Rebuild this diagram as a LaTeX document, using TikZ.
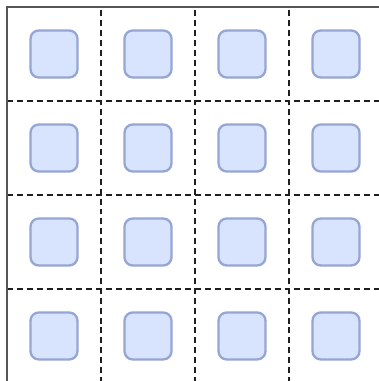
\documentclass[tikz,border=0pt]{standalone}
\usepackage{xcolor}
\usepackage{tikz}
\usetikzlibrary{positioning}
\definecolor{cellfill}{RGB}{216,228,253}
\definecolor{celldraw}{RGB}{150,166,212}
\definecolor{framegray}{RGB}{85,85,85}
\definecolor{griddark}{RGB}{30,30,30}
\tikzset{
  cellbox/.style={rectangle, draw=celldraw, fill=cellfill,
    minimum size=0.5cm, inner sep=0pt, rounded corners=2.5pt, line width=0.7pt},
  frameline/.style={draw=framegray, line width=0.8pt},
  gridline/.style={draw=griddark, line width=0.8pt, dash pattern=on 1.8pt off 1.2pt}
}
\begin{document}
\begin{tikzpicture}
  \useasboundingbox (-0.0745, 0.021) rectangle (3.947, 4.0745);
  % Cell boxes
  \foreach \r in {0,...,3} {
    \foreach \c in {0,...,3} {
      \node[cellbox] (cell-\r-\c) at (\c+0.5, 3.5-\r) {};
    }
  }
  % Dashed grid
  \foreach \k in {1,2,3} {
    \draw[gridline] (\k, 0) -- (\k, 4);
    \draw[gridline] (0, \k) -- (4, \k);
  }
  % Outer frame
  \draw[frameline] (0, 0) rectangle (4, 4);
\end{tikzpicture}
\end{document}
